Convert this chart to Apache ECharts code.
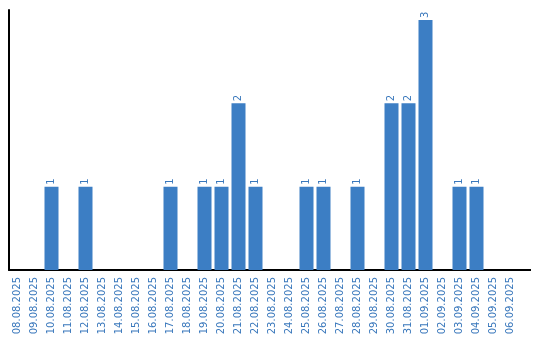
<!DOCTYPE html>
<html><head><meta charset="utf-8">
<script src="https://cdn.jsdelivr.net/npm/echarts@6/dist/echarts.min.js"></script>
<style>html,body{margin:0;padding:0;background:#fff}#c{width:540px;height:340px}</style>
</head><body><div id="c"></div>
<script>
const categories = ['08.08.2025','09.08.2025','10.08.2025','11.08.2025','12.08.2025','13.08.2025','14.08.2025','15.08.2025','16.08.2025','17.08.2025','18.08.2025','19.08.2025','20.08.2025','21.08.2025','22.08.2025','23.08.2025','24.08.2025','25.08.2025','26.08.2025','27.08.2025','28.08.2025','29.08.2025','30.08.2025','31.08.2025','01.09.2025','02.09.2025','03.09.2025','04.09.2025','05.09.2025','06.09.2025'];
const counts = [0,0,1,0,1,0,0,0,0,1,0,1,1,2,1,0,0,1,1,0,1,0,2,2,3,0,1,1,0,0];

const chart = echarts.init(document.getElementById('c'), null, {renderer:'canvas'});
chart.setOption({
  animation:false,
  grid:{left:9, top:10, width:510, height:260, containLabel:false},
  xAxis:{type:'category', data:categories,
    axisLine:{lineStyle:{color:'#000', width:2}},
    axisTick:{show:false},
    axisLabel:{rotate:90, interval:0, margin:7, color:'#3a78bc', fontSize:10, fontFamily:'DejaVu Sans'}},
  yAxis:{type:'value', min:0, max:3.12, splitLine:{show:false},
    axisLine:{show:true, lineStyle:{color:'#000', width:2}},
    axisTick:{show:false}, axisLabel:{show:false}},
  graphic:[{type:'line', shape:{x1:519,y1:270,x2:531,y2:270}, style:{stroke:'#000', lineWidth:2}}],
  series:[{type:'bar', data:counts.map(v=>v===0?null:v), barWidth:14, itemStyle:{color:'#3c7ec4'},
    label:{show:true, position:'top', rotate:90, align:'left', verticalAlign:'middle', distance:2,
      color:'#3a78bc', fontSize:10, fontFamily:'DejaVu Sans'}}]
});
</script></body></html>
